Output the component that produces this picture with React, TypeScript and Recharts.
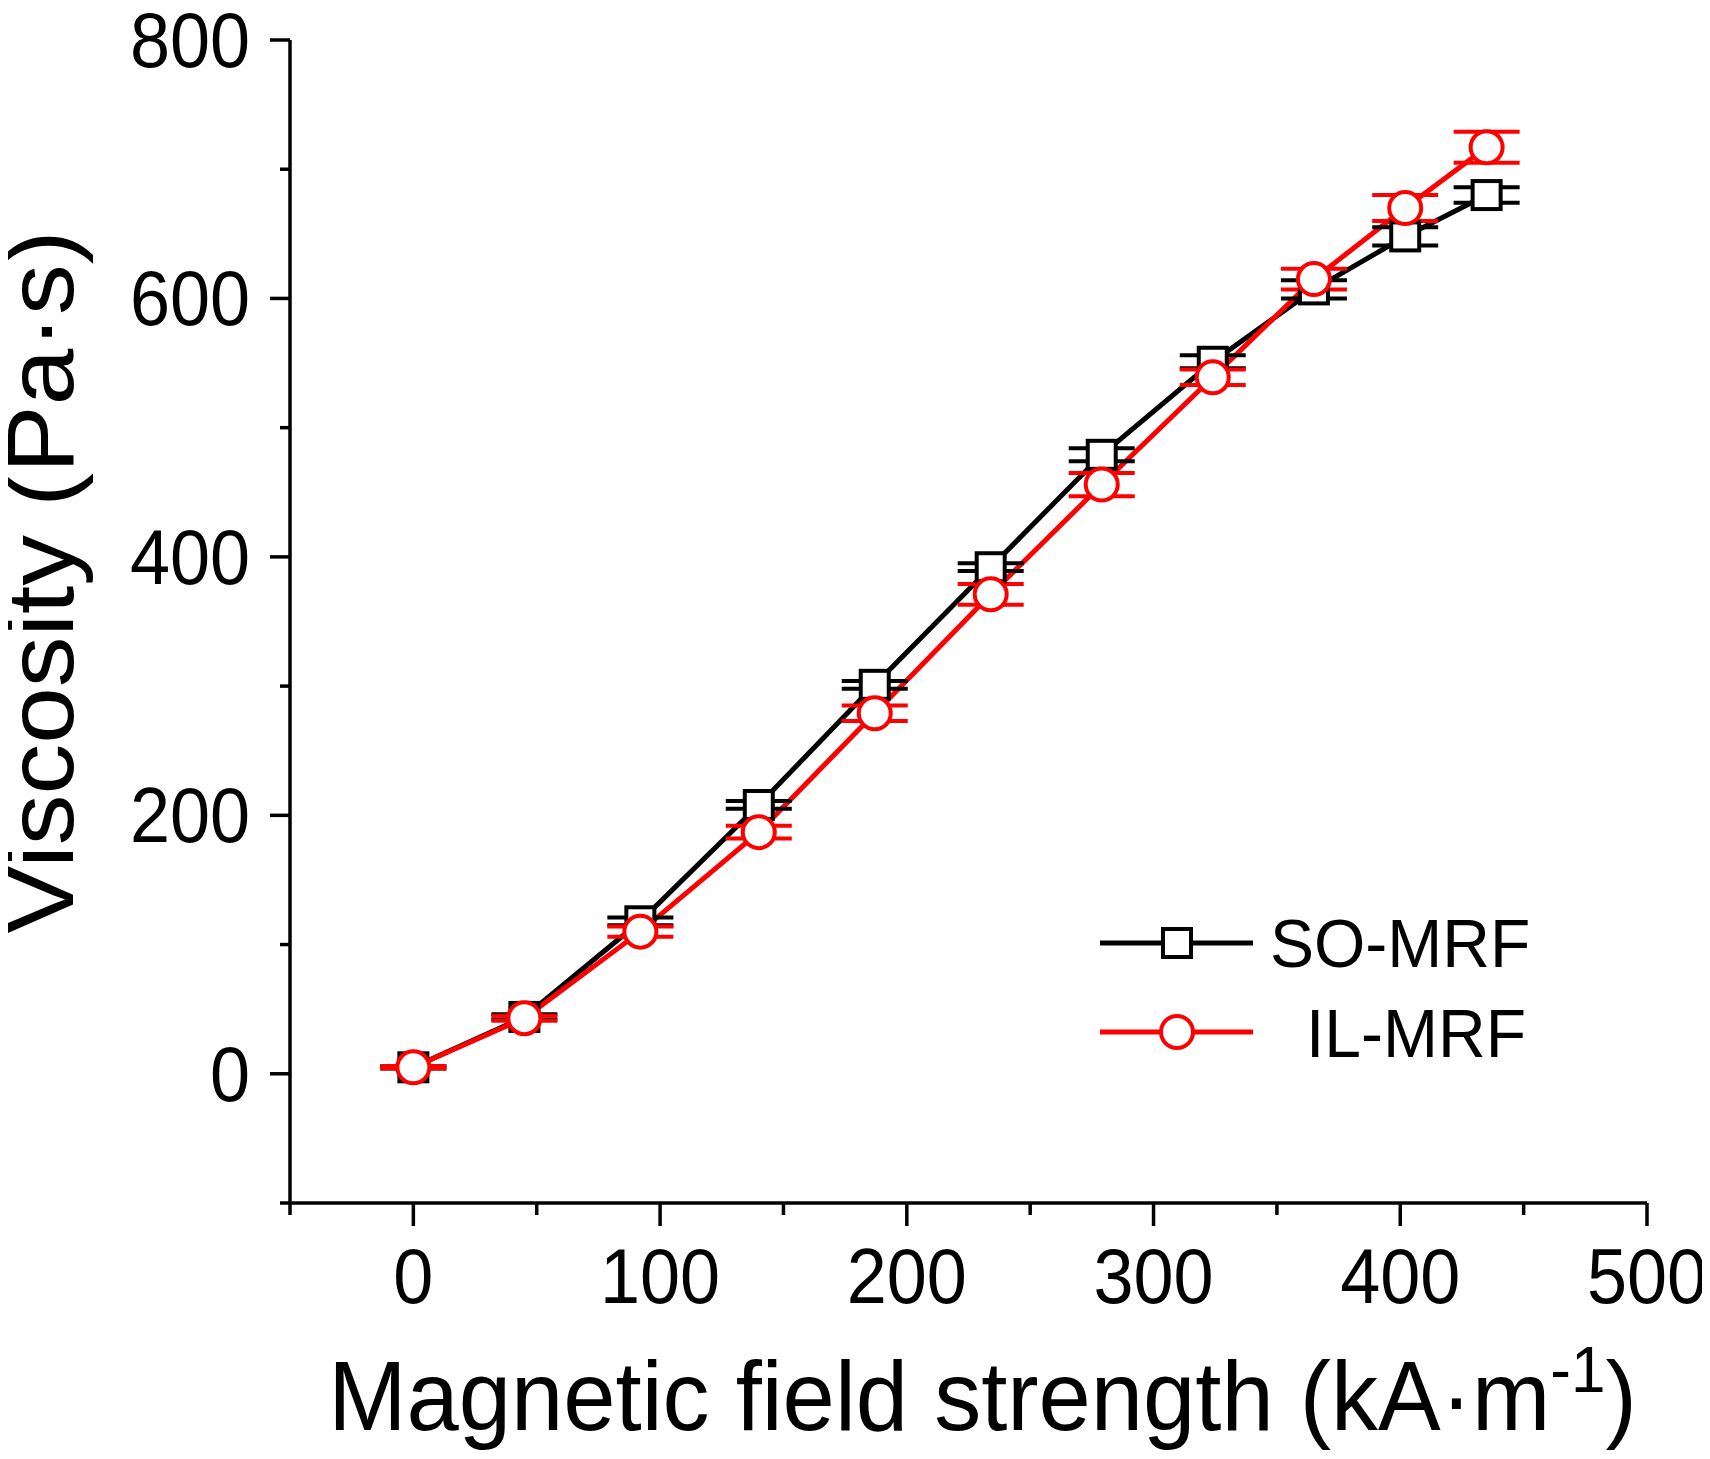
import React from 'react';
import { ComposedChart, Line, Scatter, XAxis, YAxis, ErrorBar, Legend, Label } from 'recharts';

// magnetic field strength (kA/m) and viscosity (Pa·s)
const fieldStrength = [0, 45, 92, 140, 187, 234, 279, 324, 365, 402, 435];
const soViscosity = [5, 44, 118, 208, 301, 392, 479, 551, 607, 648, 680];
const ilViscosity = [5, 43, 110, 187, 279, 371, 456, 539, 615, 670, 717];
const soError = [1, 2, 3, 3, 3, 3, 5, 5, 7, 7, 6];
const ilError = [1, 2, 4, 5, 6, 8, 9, 6, 8, 10, 12];

const seriesNames = ['SO-MRF', 'IL-MRF'];
const xTicks = [-50, 0, 50, 100, 150, 200, 250, 300, 350, 400, 450, 500];
const yTicks = [-100, 0, 100, 200, 300, 400, 500, 600, 700, 800];

const data = fieldStrength.map((x, i) => ({
  x,
  so: soViscosity[i],
  il: ilViscosity[i],
  soErr: soError[i],
  ilErr: ilError[i],
}));

const FONT = '"Liberation Sans", Arial, Helvetica, sans-serif';
const RED = '#ff0000';
const BLACK = '#000000';
const W = 1694;
const H = 1443;
const PLOT = { left: 282, top: 32, right: 1639, bottom: 1195 };

const XTick = ({ x, y, payload }: any) => {
  const major = payload.value % 100 === 0;
  return (
    <g>
      <line x1={x} x2={x} y1={y} y2={y + (major ? 23 : 12)} stroke={BLACK} strokeWidth={3.5} />
      {major && (
        <text
          transform={`translate(${x},${y + 100}) scale(1,1.08)`}
          textAnchor="middle"
          fontSize={72}
          fontFamily={FONT}
          fill={BLACK}
        >
          {payload.value}
        </text>
      )}
    </g>
  );
};

const YTick = ({ x, y, payload }: any) => {
  const major = payload.value % 200 === 0;
  return (
    <g>
      <line x1={x} x2={x - (major ? 20 : 10)} y1={y} y2={y} stroke={BLACK} strokeWidth={3.5} />
      {major && (
        <text
          transform={`translate(${x - 40},${y + 27}) scale(1,1.08)`}
          textAnchor="end"
          fontSize={72}
          fontFamily={FONT}
          fill={BLACK}
        >
          {payload.value}
        </text>
      )}
    </g>
  );
};

const SquareDot = (p: any) => {
  if (p.cx == null || p.cy == null) return <g key={`sq-${p.index}`} />;
  return (
    <rect
      key={`sq-${p.index}`}
      x={p.cx - 14}
      y={p.cy - 14}
      width={28}
      height={28}
      fill="#fff"
      stroke={BLACK}
      strokeWidth={4}
    />
  );
};

const CircleDot = (p: any) => {
  if (p.cx == null || p.cy == null) return <g key={`ci-${p.index}`} />;
  return (
    <circle key={`ci-${p.index}`} cx={p.cx} cy={p.cy} r={16} fill="#fff" stroke={RED} strokeWidth={4} />
  );
};

const XTitle = () => (
  <text
    transform={`translate(${(PLOT.left + PLOT.right) / 2 + 14},${PLOT.bottom + 227}) scale(1,1.04)`}
    textAnchor="middle"
    fontSize={94}
    fontFamily={FONT}
    fill={BLACK}
  >
    Magnetic field strength (kA·m
    <tspan dy={-37} fontSize={62}>-1</tspan>
    <tspan dy={37}>)</tspan>
  </text>
);

const YTitle = () => (
  <text
    transform={`translate(65,574) scale(1,1.08) rotate(-90)`}
    textAnchor="middle"
    fontSize={94}
    fontFamily={FONT}
    fill={BLACK}
  >
    Viscosity (Pa·s)
  </text>
);

const LegendBox = () => (
  <svg width={470} height={180} style={{ display: 'block', overflow: 'visible' }}>
    <line x1={12} x2={165} y1={45} y2={45} stroke={BLACK} strokeWidth={5} />
    <rect x={75} y={31} width={28} height={28} fill="#fff" stroke={BLACK} strokeWidth={4} />
    <text transform="translate(182,69) scale(1,1.05)" fontSize={66} fontFamily={FONT} fill={BLACK}>
      {seriesNames[0]}
    </text>
    <line x1={12} x2={165} y1={134} y2={134} stroke={RED} strokeWidth={5} />
    <circle cx={89} cy={134} r={16} fill="#fff" stroke={RED} strokeWidth={4} />
    <text transform="translate(218,159) scale(1,1.05)" fontSize={66} fontFamily={FONT} fill={BLACK}>
      {seriesNames[1]}
    </text>
  </svg>
);

export default function App() {
  return (
    <div style={{ width: W, height: H, background: '#fff' }}>
      <style>{`.recharts-surface { overflow: visible; }`}</style>
      <ComposedChart
        width={W}
        height={H}
        data={data}
        margin={{ top: PLOT.top, right: W - PLOT.right, bottom: 0, left: 0 }}
      >
        <XAxis
          dataKey="x"
          type="number"
          domain={[-50, 500]}
          ticks={xTicks}
          interval={0}
          allowDataOverflow
          height={H - PLOT.bottom}
          axisLine={{ stroke: BLACK, strokeWidth: 3.5 }}
          tickLine={false}
          tickSize={0}
          tickMargin={0}
          tick={(p: any) => <XTick {...p} />}
        >
          <Label content={XTitle} />
        </XAxis>
        <XAxis
          xAxisId="top"
          orientation="top"
          dataKey="x"
          type="number"
          domain={[-50, 500]}
          allowDataOverflow
          height={0}
          axisLine={{ stroke: BLACK, strokeWidth: 3.5 }}
          tickLine={false}
          tick={false}
        />
        <YAxis
          type="number"
          domain={[-100, 800]}
          ticks={yTicks}
          interval={0}
          allowDataOverflow
          width={PLOT.left}
          axisLine={{ stroke: BLACK, strokeWidth: 3.5 }}
          tickLine={false}
          tickSize={0}
          tickMargin={0}
          tick={(p: any) => <YTick {...p} />}
        >
          <Label content={YTitle} />
        </YAxis>
        <YAxis
          yAxisId="right"
          orientation="right"
          type="number"
          domain={[-100, 800]}
          allowDataOverflow
          width={0}
          axisLine={{ stroke: BLACK, strokeWidth: 3.5 }}
          tickLine={false}
          tick={false}
        />
        <Legend
          layout="horizontal"
          align="center"
          verticalAlign="middle"
          wrapperStyle={{ left: 1080, top: 890, width: 470, height: 180 }}
          content={() => <LegendBox />}
        />
        <Line
          type="linear"
          dataKey="so"
          name={seriesNames[0]}
          stroke={BLACK}
          strokeWidth={5}
          dot={SquareDot}
          activeDot={false}
          isAnimationActive={false}
        />
        <Line
          type="linear"
          dataKey="il"
          name={seriesNames[1]}
          stroke={RED}
          strokeWidth={5}
          dot={CircleDot}
          activeDot={false}
          isAnimationActive={false}
        />
        <Scatter dataKey="so" shape={() => <g />} legendType="none" isAnimationActive={false}>
          <ErrorBar dataKey="soErr" direction="y" width={33} stroke={BLACK} strokeWidth={4} isAnimationActive={false} />
        </Scatter>
        <Scatter dataKey="il" shape={() => <g />} legendType="none" isAnimationActive={false}>
          <ErrorBar dataKey="ilErr" direction="y" width={33} stroke={RED} strokeWidth={4} isAnimationActive={false} />
        </Scatter>
      </ComposedChart>
    </div>
  );
}
